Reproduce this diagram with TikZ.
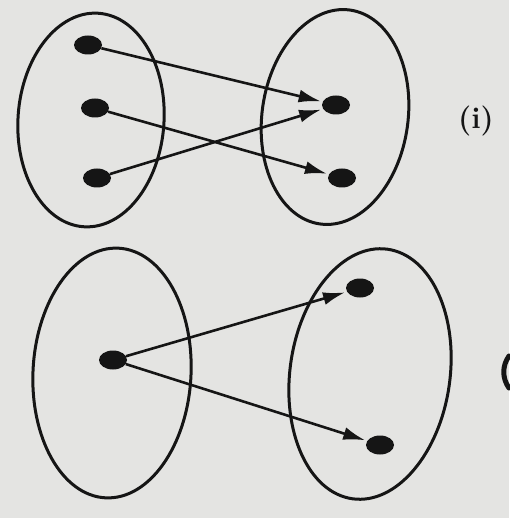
\documentclass[tikz,border=0pt]{standalone}
\usetikzlibrary{shapes.geometric,arrows.meta}
\definecolor{paper}{HTML}{E4E4E2}
\definecolor{ink}{HTML}{151515}
\begin{document}
\begin{tikzpicture}[x=1pt,y=-1pt,
  setoval/.style={draw=ink,line width=3pt},
  elem/.style={ellipse,fill=ink,minimum width=28pt,minimum height=19pt,inner sep=0pt},
  mapsto/.style={draw=ink,line width=2.6pt,-{Latex[length=22pt,width=13pt]},shorten >=2pt}
]
\fill[paper] (0,0) rectangle (509,518);
\useasboundingbox (0,0) rectangle (509,518);
% top pair
\draw[setoval,rotate around={-4:(91,120)}] (91,120) ellipse [x radius=73, y radius=107];
\draw[setoval,rotate around={-8:(335,117)}] (335,117) ellipse [x radius=73, y radius=108];
\node[elem] (a1) at (88,45) {};
\node[elem] (a2) at (95,108) {};
\node[elem] (a3) at (97,178) {};
\node[elem] (b1) at (336,105) {};
\node[elem] (b2) at (342,178) {};
\draw[mapsto] (a1) -- (b1);
\draw[mapsto] (a2) -- (b2);
\draw[mapsto] (a3) -- (b1);
\node[font=\fontsize{30}{32}\selectfont\bfseries,text=ink] (lab1) at (476,121) {(i)};
% bottom pair
\draw[setoval,rotate around={-3:(112,373)}] (112,373) ellipse [x radius=79, y radius=125];
\draw[setoval,rotate around={-8:(370,374)}] (370,374) ellipse [x radius=80, y radius=126];
\node[elem] (c1) at (113,360) {};
\node[elem] (d1) at (360,288) {};
\node[elem] (d2) at (380,445) {};
\draw[mapsto] (c1) -- (d1);
\draw[mapsto] (c1) -- (d2);
% cut-off mark at the right edge
\draw[ink,line width=5pt,line cap=round] (509,356) .. controls (502,366) and (502,378) .. (509,388);
\end{tikzpicture}
\end{document}
